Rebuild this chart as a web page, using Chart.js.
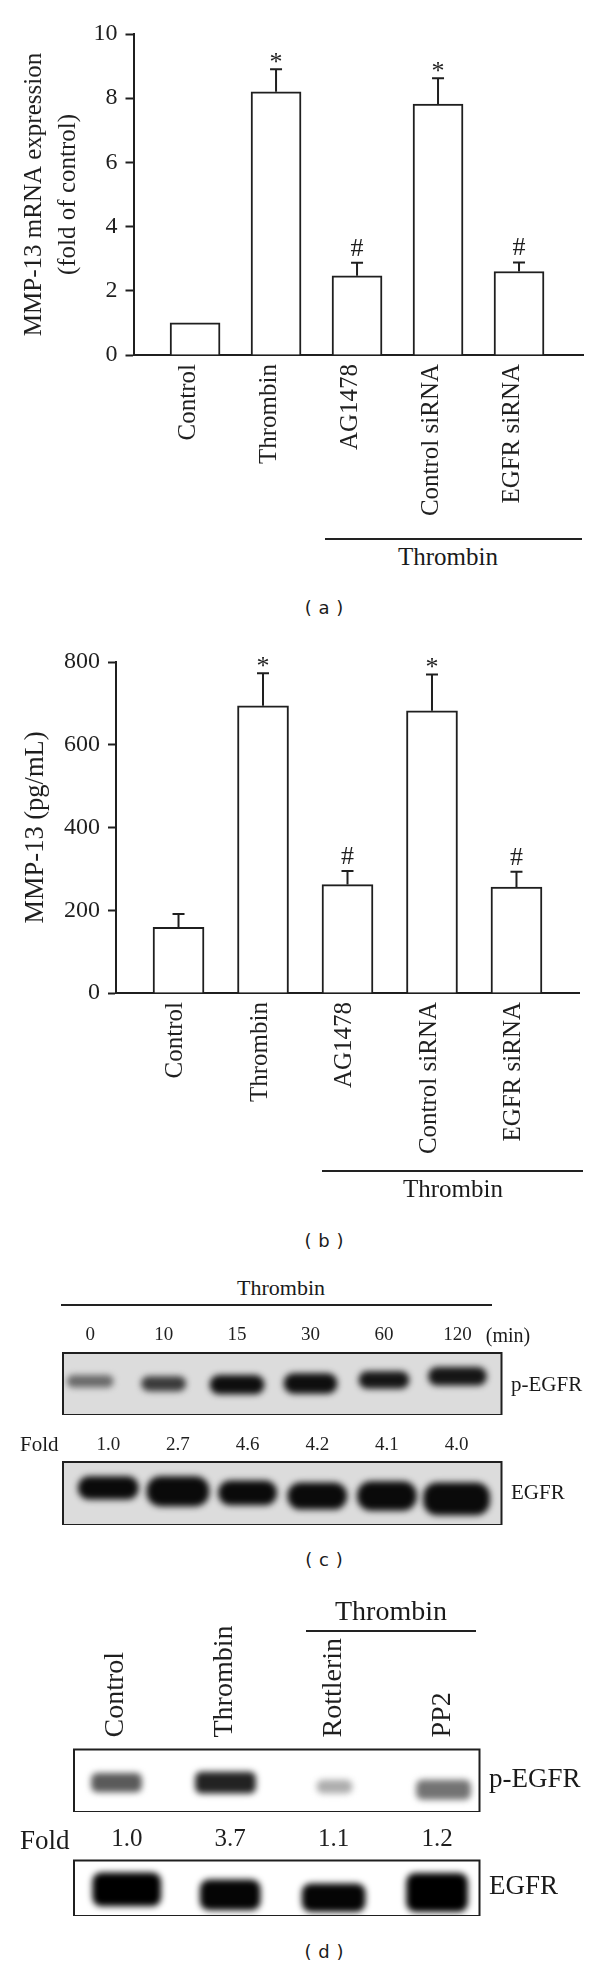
<!DOCTYPE html>
<html>
<head>
<meta charset="utf-8">
<script src="https://cdn.jsdelivr.net/npm/chart.js@4"></script>
<style>
body { margin: 0; background: #fff; }
#page { position: relative; width: 600px; height: 1967px; overflow: hidden; }
canvas { position: absolute; left: 0; }
.txt { position: absolute; font-family: "Liberation Serif", serif; color: #1a1a1a; white-space: nowrap; transform: translate(0, -50%); }
.mid { transform: translate(-50%, -50%); }
.cap { position: absolute; font: 18px "DejaVu Sans", sans-serif; word-spacing: 1px; color: #1a1a1a; left: 324px; transform: translate(-50%, -50%); }
.rule { position: absolute; height: 2px; background: #222; }
</style>
</head>
<body>
<div id="page">
  <canvas id="chartA" width="600" height="530" style="top:0"></canvas>
  <canvas id="chartB" width="600" height="570" style="top:630px"></canvas>
  <canvas id="stripC1" width="600" height="95" style="top:1320px"></canvas>
  <canvas id="stripC2" width="600" height="95" style="top:1430px"></canvas>
  <canvas id="stripD1" width="600" height="192" style="top:1620px"></canvas>
  <canvas id="stripD2" width="600" height="101" style="top:1815px"></canvas>

  <div class="rule" style="left:325px;width:257px;top:538px"></div>
  <div class="txt mid" style="left:448px;top:557px;font-size:25px">Thrombin</div>
  <div class="cap" style="top:607px">( a )</div>

  <div class="rule" style="left:322px;width:261px;top:1170px"></div>
  <div class="txt mid" style="left:453px;top:1189px;font-size:25px">Thrombin</div>
  <div class="cap" style="top:1240px">( b )</div>

  <div class="txt mid" style="left:281px;top:1288px;font-size:22px">Thrombin</div>
  <div class="rule" style="left:61px;width:431px;top:1304px"></div>
  <div class="txt mid" style="left:508px;top:1335px;font-size:20px">(min)</div>
  <div class="txt" style="left:511px;top:1384px;font-size:21px">p-EGFR</div>
  <div class="txt" style="left:20px;top:1444px;font-size:21px">Fold</div>
  <div class="txt" style="left:511px;top:1492px;font-size:21px">EGFR</div>
  <div class="cap" style="top:1559px">( c )</div>

  <div class="txt mid" style="left:391px;top:1611px;font-size:28px">Thrombin</div>
  <div class="rule" style="left:306px;width:170px;top:1630px"></div>
  <div class="txt" style="left:489px;top:1778px;font-size:27px">p-EGFR</div>
  <div class="txt" style="left:20px;top:1840px;font-size:27px">Fold</div>
  <div class="txt" style="left:489px;top:1885px;font-size:27px">EGFR</div>
  <div class="cap" style="top:1951px">( d )</div>
</div>

<script>
// Bar panels
const treatments = ['Control', 'Thrombin', 'AG1478', 'Control siRNA', 'EGFR siRNA'];
const mrnaValues = [1.0, 8.2, 2.47, 7.82, 2.6];
const mrnaErrorTops = [null, 8.9, 2.87, 8.62, 2.88];
const mrnaTicks = [0, 2, 4, 6, 8, 10];
const proteinValues = [159, 694, 262, 682, 256];
const proteinErrorTops = [191, 773, 295, 770, 293];
const proteinTicks = [0, 200, 400, 600, 800];
const significance = ['', '*', '#', '*', '#'];

// Blot panel (c)
const minutes = ['0', '10', '15', '30', '60', '120'];
const foldC = ['1.0', '2.7', '4.6', '4.2', '4.1', '4.0'];
const phosphoLowC = [45, 39, 34, 35, 43, 48];
const phosphoHighC = [64, 62, 64, 67, 70, 77];
const totalLowC = [41, 30, 32, 25, 23, 16];
const totalHighC = [77, 77, 70, 67, 69, 67];

// Blot panel (d)
const inhibitors = ['Control', 'Thrombin', 'Rottlerin', 'PP2'];
const foldD = ['1.0', '3.7', '1.1', '1.2'];
const phosphoLowD = [32, 30, 30, 20];
const phosphoHighD = [62, 64, 51, 51];
const totalLowD = [18, 11, 8, 8];
const totalHighD = [78, 65, 58, 77];

const serif = 'Liberation Serif';
const ink = '#1f1f1f';

// error bars and significance marks, placed through the chart's own scales
const errorBars = {
    id: 'errorBars',
    afterDatasetsDraw(chart, args, opts) {
        const { ctx, scales: { x, y } } = chart;
        ctx.save();
        ctx.strokeStyle = ink;
        ctx.fillStyle = ink;
        ctx.lineWidth = 2;
        ctx.textAlign = 'center';
        ctx.textBaseline = 'middle';
        ctx.font = '26px "' + serif + '"';
        opts.tops.forEach((top, i) => {
            if (top === null) return;
            const px = x.getPixelForValue(i);
            const from = y.getPixelForValue(opts.values[i]);
            const to = y.getPixelForValue(top);
            ctx.beginPath();
            ctx.moveTo(px, from);
            ctx.lineTo(px, to);
            ctx.moveTo(px - 6, to);
            ctx.lineTo(px + 6, to);
            ctx.stroke();
            if (opts.marks[i]) ctx.fillText(opts.marks[i], px, to - (opts.marks[i] === '*' ? 6 : 14));
        });
        ctx.restore();
    }
};

function barPanel(id, cfg) {
    new Chart(document.getElementById(id), {
        type: 'bar',
        data: {
            datasets: [{
                data: cfg.values.map((v, i) => ({ x: i, y: v })),
                backgroundColor: '#fff',
                borderColor: ink,
                borderWidth: 2,
                barThickness: cfg.barWidth
            }]
        },
        options: {
            responsive: false,
            animation: false,
            layout: { padding: { top: cfg.top, right: cfg.right } },
            plugins: {
                legend: { display: false },
                tooltip: { enabled: false },
                errorBars: { values: cfg.values, tops: cfg.tops, marks: significance }
            },
            scales: {
                x: {
                    type: 'linear',
                    offset: false,
                    bounds: 'data',
                    min: cfg.xMin,
                    max: cfg.xMax,
                    afterFit: s => { s.height = cfg.xHeight; },
                    afterBuildTicks: s => { s.ticks = treatments.map((t, i) => ({ value: i })); },
                    grid: { display: false, drawTicks: false },
                    border: { color: ink, width: 2 },
                    ticks: {
                        autoSkip: false,
                        minRotation: 90,
                        maxRotation: 90,
                        padding: 9,
                        labelOffset: cfg.labelOffset,
                        color: ink,
                        font: { family: serif, size: 25 },
                        callback: v => treatments[v] || ''
                    }
                },
                y: {
                    min: cfg.ticks[0],
                    max: cfg.ticks[cfg.ticks.length - 1],
                    afterFit: s => { s.width = cfg.yWidth; },
                    afterBuildTicks: s => { s.ticks = cfg.ticks.map(v => ({ value: v })); },
                    grid: { drawOnChartArea: false, tickLength: 8, tickColor: ink, tickWidth: 2 },
                    border: { color: ink, width: 2 },
                    ticks: { padding: 8, color: ink, font: { family: serif, size: 24 } },
                    title: {
                        display: true,
                        text: cfg.title,
                        color: ink,
                        padding: { top: cfg.titlePad, bottom: 0 },
                        font: { family: serif, size: cfg.titleSize, lineHeight: 1.36 }
                    }
                }
            }
        },
        plugins: [errorBars]
    });
}

barPanel('chartA', {
    values: mrnaValues, tops: mrnaErrorTops, ticks: mrnaTicks,
    title: ['MMP-13 mRNA expression', '(fold of control)'], titlePad: 17, titleSize: 25,
    top: 34, right: 17, xHeight: 175, yWidth: 133.5, barWidth: 50,
    xMin: -0.76, xMax: 4.79, labelOffset: -7
});

barPanel('chartB', {
    values: proteinValues, tops: proteinErrorTops, ticks: proteinTicks,
    title: 'MMP-13 (pg/mL)', titlePad: 18, titleSize: 26.5,
    top: 32, right: 21, xHeight: 207, yWidth: 116, barWidth: 51,
    xMin: -0.74, xMax: 4.74, labelOffset: -3
});

// soft edges on the blot bands, grey fill and frame on the strip
const blot = {
    id: 'blot',
    beforeDraw(chart, args, opts) {
        const { ctx, chartArea: a } = chart;
        ctx.save();
        ctx.fillStyle = opts.background;
        ctx.fillRect(a.left, a.top, a.width, a.height);
        ctx.restore();
    },
    beforeDatasetsDraw(chart) {
        chart.ctx.save();
        chart.ctx.filter = 'blur(3px)';
    },
    afterDatasetsDraw(chart) {
        const { ctx, chartArea: a } = chart;
        ctx.restore();
        ctx.save();
        ctx.strokeStyle = ink;
        ctx.lineWidth = 2;
        ctx.strokeRect(a.left, a.top, a.width, a.height);
        ctx.restore();
    }
};

function blotStrip(id, cfg) {
    new Chart(document.getElementById(id), {
        type: 'bar',
        data: {
            // one dataset per lane so every band can keep its own width
            datasets: cfg.low.map((low, i) => ({
                data: [{ x: i, y: [low, cfg.high[i]] }],
                backgroundColor: cfg.shades[i],
                barThickness: cfg.widths[i],
                borderRadius: cfg.radius,
                borderSkipped: false,
                grouped: false
            }))
        },
        options: {
            responsive: false,
            animation: false,
            layout: { padding: { left: cfg.left, right: cfg.right } },
            plugins: {
                legend: { display: false },
                tooltip: { enabled: false },
                blot: { background: cfg.background }
            },
            scales: {
                x: {
                    type: 'linear',
                    offset: false,
                    position: 'top',
                    bounds: 'data',
                    min: cfg.xMin,
                    max: cfg.xMax,
                    afterFit: s => { s.height = cfg.axisHeight; },
                    afterBuildTicks: s => { s.ticks = cfg.labels.map((t, i) => ({ value: i })); },
                    grid: { display: false, drawTicks: false },
                    border: { display: false },
                    ticks: {
                        autoSkip: false,
                        minRotation: cfg.rotation,
                        maxRotation: cfg.rotation,
                        padding: cfg.labelPad,
                        labelOffset: cfg.labelOffset,
                        color: ink,
                        font: { family: serif, size: cfg.fontSize },
                        callback: v => cfg.labels[v] || ''
                    }
                },
                y: { display: false, min: 0, max: 100 }
            }
        },
        plugins: [blot]
    });
}

blotStrip('stripC1', {
    labels: minutes, low: phosphoLowC, high: phosphoHighC,
    shades: ['#6a6a6a', '#3a3a3a', '#0e0e0e', '#0e0e0e', '#151515', '#151515'],
    widths: [46, 44, 54, 53, 50, 58], radius: 14,
    background: '#dcdcdc', left: 63, right: 98.5, axisHeight: 33,
    xMin: -0.37, xMax: 5.6, fontSize: 19, rotation: 0, labelPad: 7, labelOffset: 0
});

blotStrip('stripC2', {
    labels: foldC, low: totalLowC, high: totalHighC,
    shades: ['#0a0a0a', '#0a0a0a', '#0a0a0a', '#0a0a0a', '#0a0a0a', '#0a0a0a'],
    widths: [60, 62, 58, 59, 59, 66], radius: 14,
    background: '#dcdcdc', left: 63, right: 98.5, axisHeight: 32,
    xMin: -0.65, xMax: 5.645, fontSize: 19, rotation: 0, labelPad: 6, labelOffset: 0
});

blotStrip('stripD1', {
    labels: inhibitors, low: phosphoLowD, high: phosphoHighD,
    shades: ['#5a5a5a', '#222222', '#adadad', '#737373'],
    widths: [50, 60, 35, 54], radius: 6,
    background: '#ffffff', left: 74, right: 120.5, axisHeight: 129.5,
    xMin: -0.39, xMax: 3.33, fontSize: 28, rotation: 90, labelPad: 12, labelOffset: 33
});

blotStrip('stripD2', {
    labels: foldD, low: totalLowD, high: totalHighD,
    shades: ['#000000', '#050505', '#050505', '#000000'],
    widths: [68, 60, 63, 61], radius: 9,
    background: '#ffffff', left: 74, right: 120.5, axisHeight: 45.5,
    xMin: -0.51, xMax: 3.41, fontSize: 25, rotation: 0, labelPad: 6, labelOffset: 0
});
</script>
</body>
</html>
